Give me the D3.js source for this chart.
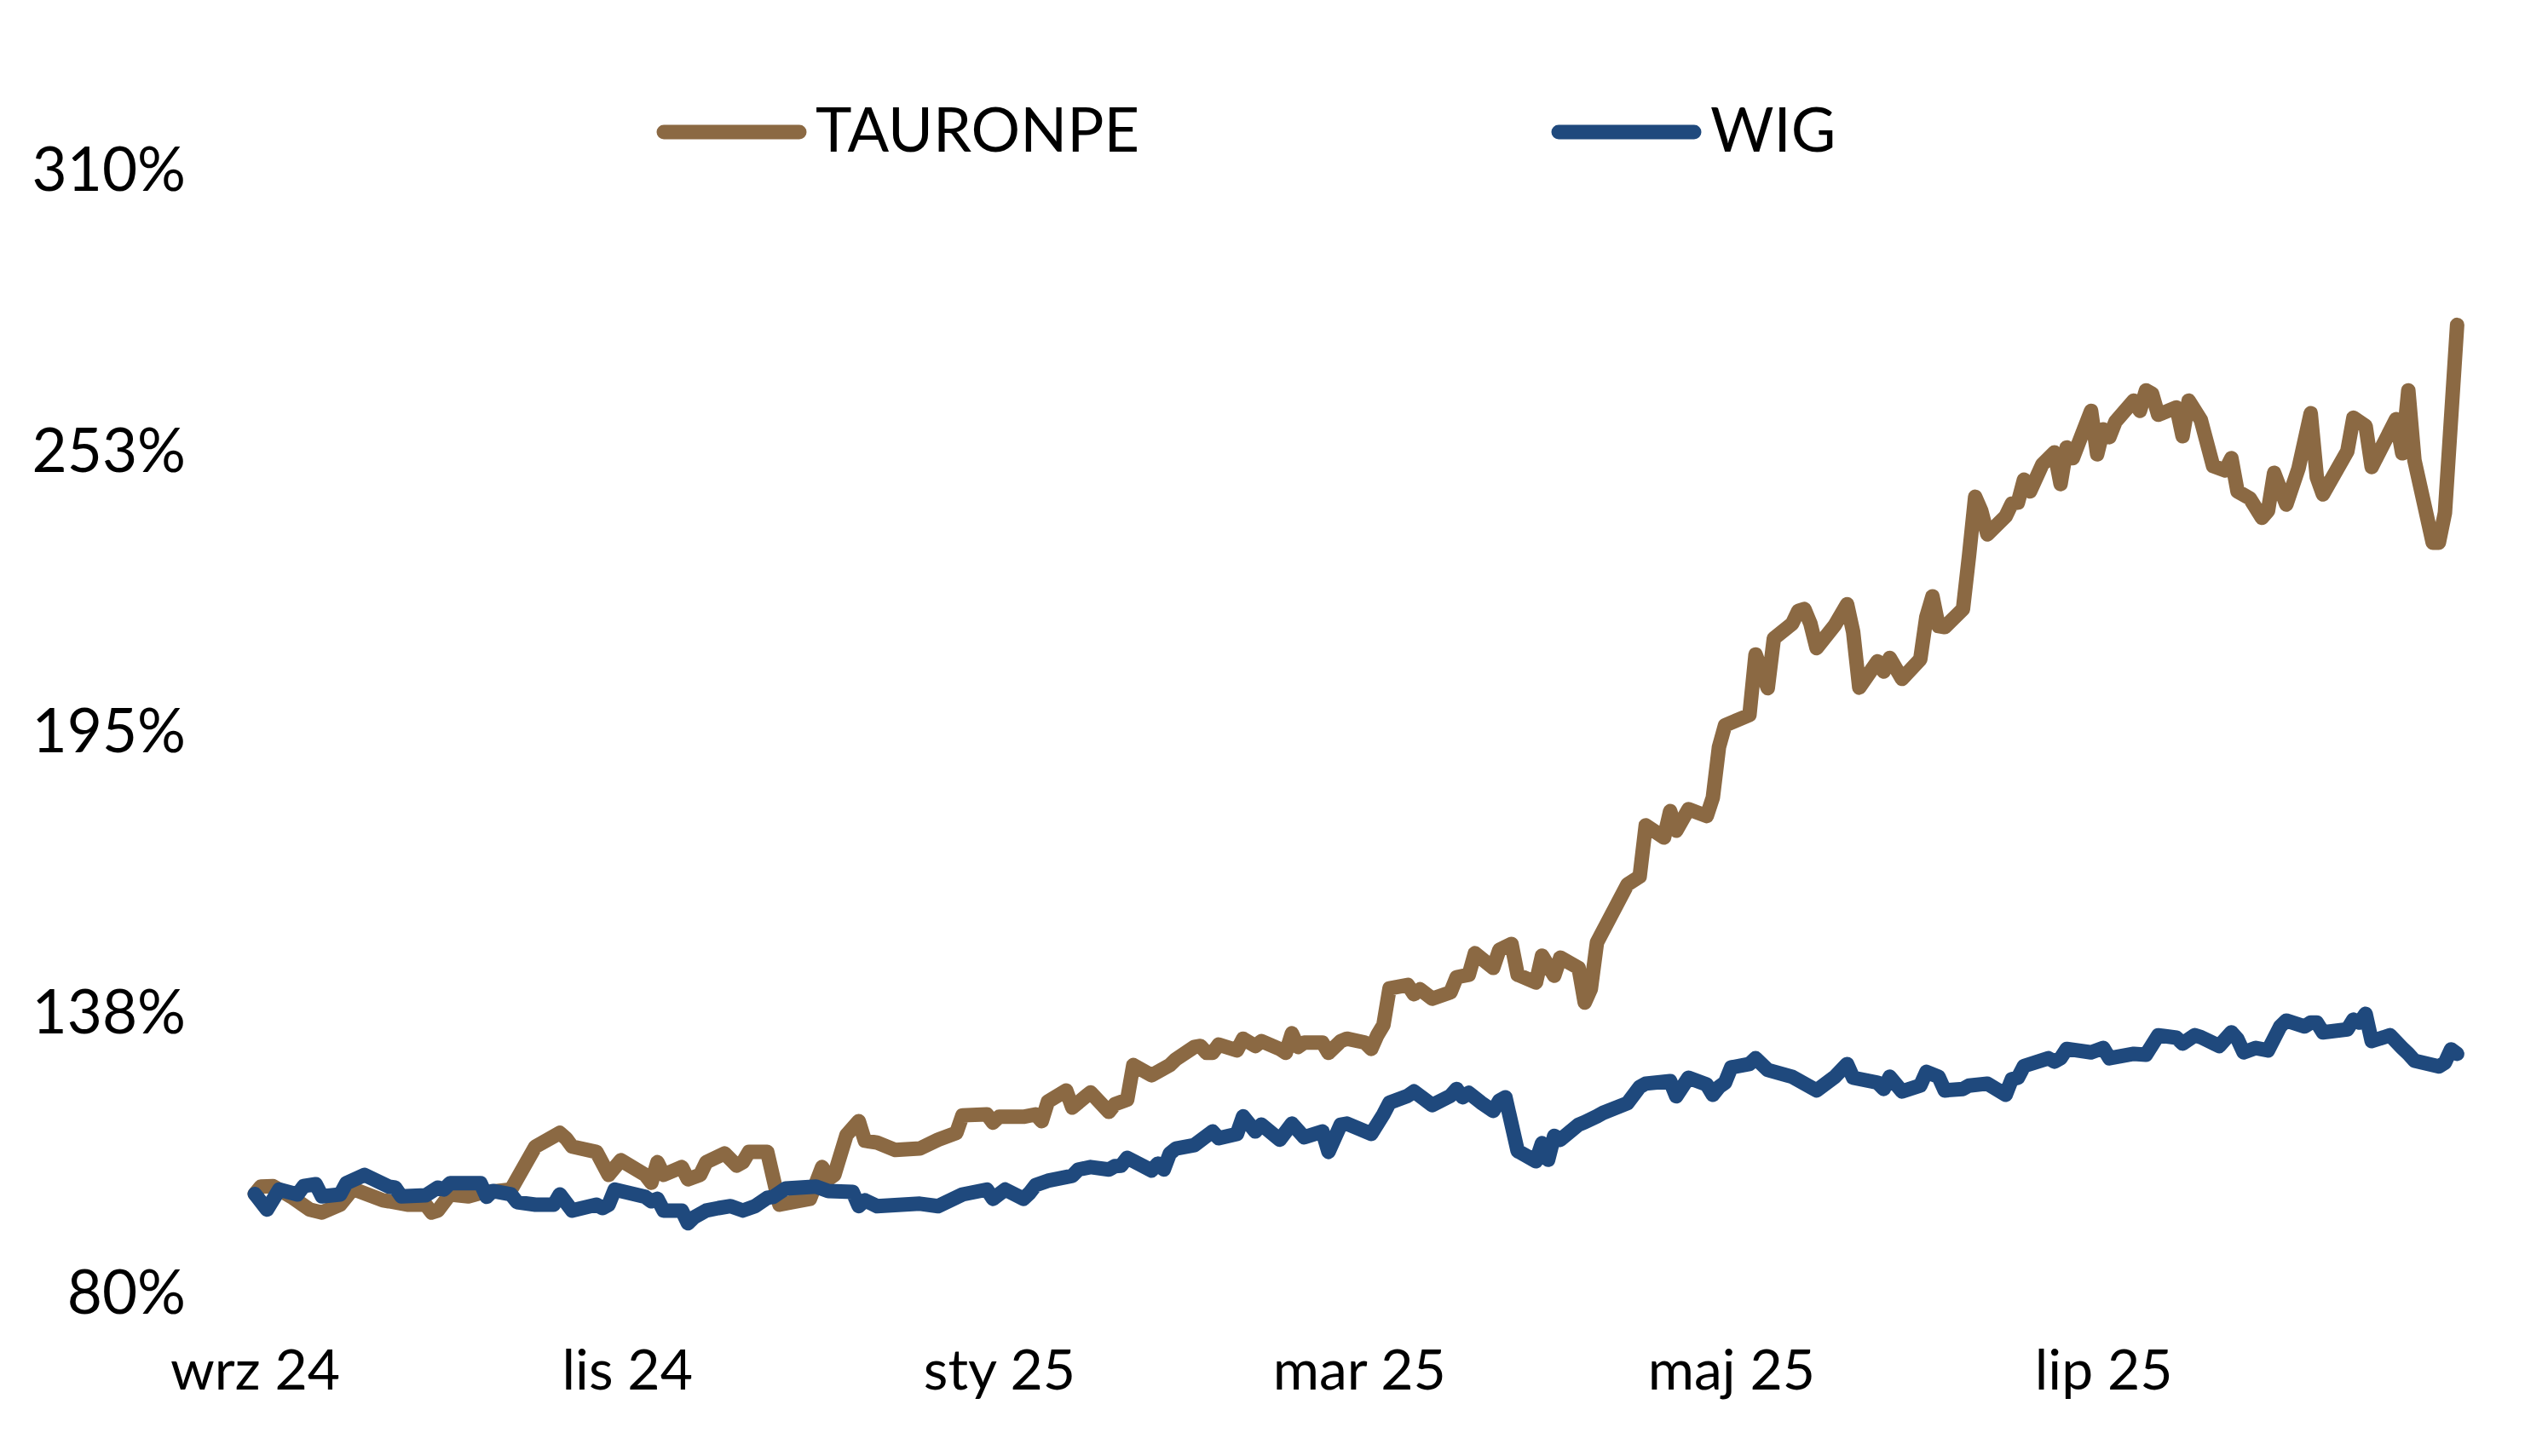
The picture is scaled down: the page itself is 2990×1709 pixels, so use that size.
<!DOCTYPE html>
<meta charset="utf-8">
<style>
body { margin: 0; background: #fff; }
text { font-family: Lato, "Open Sans", sans-serif; fill: #000; }
</style>
<body>
<svg width="2990" height="1709" id="chart"></svg>
<script src="https://d3js.org/d3.v7.min.js"></script>
<script>

// series / legend
const seriesNames = ["TAURONPE", "WIG"];
const seriesColors = ["#8b6943", "#1f497d"];

// polish month abbreviations for the date axis
const monthLabels = ["sty", "lut", "mar", "kwi", "maj", "cze", "lip", "sie", "wrz", "paź", "lis", "gru"];

// y ticks (labels rounded to whole %)
const yTicks = [80, 137.5, 195, 252.5, 310];

// TAURONPE, % of start value
const tauron = [
  ["2024-09-01", 100.0], ["2024-09-02", 101.5], ["2024-09-04", 101.6], ["2024-09-07", 99.4],
  ["2024-09-10", 96.8], ["2024-09-12", 96.2], ["2024-09-15", 97.8], ["2024-09-17", 100.9],
  ["2024-09-18", 100.6], ["2024-09-22", 98.7], ["2024-09-23", 98.5], ["2024-09-26", 97.8],
  ["2024-09-29", 97.8], ["2024-09-30", 96.2], ["2024-10-01", 96.6], ["2024-10-03", 99.9],
  ["2024-10-06", 99.5], ["2024-10-08", 100.2], ["2024-10-13", 100.9], ["2024-10-15", 105.3],
  ["2024-10-17", 109.7], ["2024-10-21", 112.5], ["2024-10-22", 111.4], ["2024-10-23", 109.7],
  ["2024-10-27", 108.6], ["2024-10-29", 103.9], ["2024-10-31", 106.9], ["2024-11-04", 103.9],
  ["2024-11-05", 102.3], ["2024-11-06", 106.5], ["2024-11-07", 103.9], ["2024-11-10", 105.5],
  ["2024-11-11", 103.0], ["2024-11-13", 103.9], ["2024-11-14", 106.5], ["2024-11-17", 108.3],
  ["2024-11-19", 105.8], ["2024-11-20", 106.5], ["2024-11-21", 108.6], ["2024-11-24", 108.6],
  ["2024-11-26", 97.8], ["2024-11-28", 98.3], ["2024-12-01", 99.0], ["2024-12-03", 105.5],
  ["2024-12-04", 103.0], ["2024-12-05", 103.9], ["2024-12-07", 112.1], ["2024-12-09", 114.9],
  ["2024-12-10", 110.9], ["2024-12-12", 110.5], ["2024-12-15", 109.0], ["2024-12-19", 109.3],
  ["2024-12-22", 111.1], ["2024-12-25", 112.5], ["2024-12-26", 116.1], ["2024-12-30", 116.3],
  ["2024-12-31", 114.6], ["2025-01-01", 115.8], ["2025-01-05", 115.8], ["2025-01-07", 116.3],
  ["2025-01-08", 114.9], ["2025-01-09", 118.9], ["2025-01-12", 121.2], ["2025-01-13", 117.7],
  ["2025-01-16", 120.8], ["2025-01-19", 116.8], ["2025-01-20", 118.4], ["2025-01-22", 119.3],
  ["2025-01-23", 126.4], ["2025-01-26", 124.3], ["2025-01-29", 126.4], ["2025-01-30", 127.6],
  ["2025-02-02", 130.1], ["2025-02-03", 130.3], ["2025-02-04", 128.9], ["2025-02-05", 128.9],
  ["2025-02-06", 130.6], ["2025-02-09", 129.4], ["2025-02-10", 131.8], ["2025-02-12", 130.3],
  ["2025-02-13", 131.3], ["2025-02-16", 129.7], ["2025-02-17", 128.9], ["2025-02-18", 132.9],
  ["2025-02-19", 130.1], ["2025-02-20", 131.0], ["2025-02-23", 131.0], ["2025-02-24", 128.9],
  ["2025-02-26", 131.3], ["2025-02-27", 131.8], ["2025-03-02", 131.0], ["2025-03-03", 129.7],
  ["2025-03-04", 132.5], ["2025-03-05", 134.6], ["2025-03-06", 142.1], ["2025-03-09", 142.8],
  ["2025-03-10", 140.9], ["2025-03-11", 141.9], ["2025-03-13", 140.0], ["2025-03-16", 141.3],
  ["2025-03-17", 144.4], ["2025-03-19", 144.9], ["2025-03-20", 149.3], ["2025-03-23", 146.3],
  ["2025-03-24", 150.0], ["2025-03-26", 151.2], ["2025-03-27", 144.9], ["2025-03-30", 143.3],
  ["2025-03-31", 148.8], ["2025-04-02", 144.7], ["2025-04-03", 148.4], ["2025-04-06", 146.3],
  ["2025-04-07", 139.2], ["2025-04-08", 142.0], ["2025-04-09", 151.5], ["2025-04-14", 163.4],
  ["2025-04-16", 165.0], ["2025-04-17", 175.5], ["2025-04-20", 173.0], ["2025-04-21", 178.4],
  ["2025-04-22", 174.4], ["2025-04-24", 178.8], ["2025-04-27", 177.4], ["2025-04-28", 181.2],
  ["2025-04-29", 191.5], ["2025-04-30", 196.0], ["2025-05-04", 198.1], ["2025-05-05", 210.5],
  ["2025-05-07", 203.6], ["2025-05-08", 213.8], ["2025-05-11", 216.8], ["2025-05-12", 219.4],
  ["2025-05-13", 219.8], ["2025-05-14", 216.8], ["2025-05-15", 211.8], ["2025-05-18", 216.5],
  ["2025-05-20", 220.8], ["2025-05-21", 215.1], ["2025-05-22", 203.7], ["2025-05-25", 209.1],
  ["2025-05-26", 207.0], ["2025-05-27", 209.8], ["2025-05-29", 205.5], ["2025-06-01", 209.5],
  ["2025-06-02", 218.2], ["2025-06-03", 222.4], ["2025-06-04", 216.3], ["2025-06-05", 216.1],
  ["2025-06-08", 219.8], ["2025-06-09", 230.8], ["2025-06-10", 242.8], ["2025-06-11", 239.9],
  ["2025-06-12", 235.1], ["2025-06-15", 238.8], ["2025-06-16", 241.4], ["2025-06-17", 241.6],
  ["2025-06-18", 246.3], ["2025-06-19", 243.9], ["2025-06-21", 249.4], ["2025-06-23", 251.9],
  ["2025-06-24", 245.4], ["2025-06-25", 252.9], ["2025-06-26", 250.7], ["2025-06-29", 260.4],
  ["2025-06-30", 251.5], ["2025-07-01", 256.6], ["2025-07-02", 255.0], ["2025-07-03", 258.2],
  ["2025-07-06", 262.5], ["2025-07-07", 260.4], ["2025-07-08", 264.6], ["2025-07-09", 263.9],
  ["2025-07-10", 259.6], ["2025-07-13", 261.1], ["2025-07-14", 255.2], ["2025-07-15", 262.5],
  ["2025-07-17", 258.5], ["2025-07-19", 249.1], ["2025-07-21", 248.2], ["2025-07-22", 250.7],
  ["2025-07-23", 243.9], ["2025-07-25", 242.5], ["2025-07-27", 238.5], ["2025-07-28", 239.9],
  ["2025-07-29", 247.7], ["2025-07-31", 241.2], ["2025-08-02", 248.6], ["2025-08-04", 259.9],
  ["2025-08-05", 246.8], ["2025-08-06", 243.3], ["2025-08-10", 252.1], ["2025-08-11", 259.0],
  ["2025-08-13", 257.3], ["2025-08-14", 248.9], ["2025-08-18", 258.7], ["2025-08-19", 251.7],
  ["2025-08-20", 264.6], ["2025-08-21", 250.3], ["2025-08-24", 233.4], ["2025-08-25", 233.4],
  ["2025-08-26", 239.5], ["2025-08-28", 278.0]
];

// WIG index, % of start value
const wig = [
  ["2024-09-01", 100.0], ["2024-09-03", 96.8], ["2024-09-05", 100.9], ["2024-09-08", 99.9],
  ["2024-09-09", 101.6], ["2024-09-11", 102.0], ["2024-09-12", 99.5], ["2024-09-15", 99.9],
  ["2024-09-16", 102.2], ["2024-09-19", 103.9], ["2024-09-23", 101.5], ["2024-09-24", 101.3],
  ["2024-09-25", 99.5], ["2024-09-29", 99.7], ["2024-10-01", 101.3], ["2024-10-02", 100.9],
  ["2024-10-03", 102.2], ["2024-10-08", 102.2], ["2024-10-09", 99.4], ["2024-10-10", 100.6],
  ["2024-10-13", 99.9], ["2024-10-14", 98.3], ["2024-10-17", 97.8], ["2024-10-20", 97.8],
  ["2024-10-21", 99.9], ["2024-10-23", 96.6], ["2024-10-27", 97.8], ["2024-10-28", 97.1],
  ["2024-10-29", 97.8], ["2024-10-30", 100.9], ["2024-11-04", 99.4], ["2024-11-05", 98.5],
  ["2024-11-06", 99.0], ["2024-11-07", 96.6], ["2024-11-10", 96.6], ["2024-11-11", 94.0],
  ["2024-11-12", 95.2], ["2024-11-14", 96.6], ["2024-11-16", 97.1], ["2024-11-18", 97.5],
  ["2024-11-20", 96.6], ["2024-11-22", 97.5], ["2024-11-24", 99.2], ["2024-11-25", 99.4],
  ["2024-11-27", 101.1], ["2024-12-02", 101.5], ["2024-12-04", 100.6], ["2024-12-08", 100.4],
  ["2024-12-09", 97.5], ["2024-12-10", 98.7], ["2024-12-12", 97.5], ["2024-12-19", 98.0],
  ["2024-12-22", 97.5], ["2024-12-26", 99.9], ["2024-12-30", 100.9], ["2024-12-31", 99.0],
  ["2025-01-02", 100.9], ["2025-01-05", 99.0], ["2025-01-06", 100.2], ["2025-01-07", 101.8],
  ["2025-01-09", 102.7], ["2025-01-13", 103.7], ["2025-01-14", 105.0], ["2025-01-16", 105.5],
  ["2025-01-19", 105.0], ["2025-01-20", 105.7], ["2025-01-21", 105.8], ["2025-01-22", 107.4],
  ["2025-01-26", 104.8], ["2025-01-27", 106.2], ["2025-01-28", 105.0], ["2025-01-29", 108.3],
  ["2025-01-30", 109.3], ["2025-02-02", 110.0], ["2025-02-05", 112.8], ["2025-02-06", 111.4],
  ["2025-02-09", 112.3], ["2025-02-10", 115.9], ["2025-02-12", 112.8], ["2025-02-13", 114.2],
  ["2025-02-16", 111.1], ["2025-02-18", 114.4], ["2025-02-20", 111.6], ["2025-02-23", 112.8],
  ["2025-02-24", 108.6], ["2025-02-26", 114.2], ["2025-02-27", 114.4], ["2025-03-03", 112.3],
  ["2025-03-05", 116.3], ["2025-03-06", 118.7], ["2025-03-09", 120.1], ["2025-03-10", 121.0],
  ["2025-03-13", 118.2], ["2025-03-16", 120.1], ["2025-03-17", 121.5], ["2025-03-18", 119.8],
  ["2025-03-19", 120.7], ["2025-03-21", 118.7], ["2025-03-23", 117.0], ["2025-03-24", 119.1],
  ["2025-03-25", 119.8], ["2025-03-27", 108.8], ["2025-03-30", 106.7], ["2025-03-31", 110.4],
  ["2025-04-01", 107.0], ["2025-04-02", 111.9], ["2025-04-03", 111.1], ["2025-04-06", 114.2],
  ["2025-04-07", 114.7], ["2025-04-09", 115.9], ["2025-04-10", 116.6], ["2025-04-14", 118.6],
  ["2025-04-16", 121.9], ["2025-04-17", 122.6], ["2025-04-21", 123.1], ["2025-04-22", 120.0],
  ["2025-04-24", 123.8], ["2025-04-27", 122.4], ["2025-04-28", 120.3], ["2025-04-29", 121.9],
  ["2025-04-30", 122.8], ["2025-05-01", 125.9], ["2025-05-04", 126.6], ["2025-05-05", 127.8],
  ["2025-05-07", 125.4], ["2025-05-11", 124.0], ["2025-05-15", 121.2], ["2025-05-18", 124.0],
  ["2025-05-20", 126.6], ["2025-05-21", 123.8], ["2025-05-25", 122.8], ["2025-05-26", 121.5],
  ["2025-05-27", 124.0], ["2025-05-29", 121.0], ["2025-06-01", 122.2], ["2025-06-02", 125.0],
  ["2025-06-04", 124.0], ["2025-06-05", 121.2], ["2025-06-08", 121.5], ["2025-06-09", 122.2],
  ["2025-06-12", 122.6], ["2025-06-15", 120.3], ["2025-06-16", 123.5], ["2025-06-17", 123.8],
  ["2025-06-18", 126.2], ["2025-06-22", 127.8], ["2025-06-23", 127.1], ["2025-06-24", 127.8],
  ["2025-06-25", 129.7], ["2025-06-29", 129.0], ["2025-07-01", 129.9], ["2025-07-02", 127.8],
  ["2025-07-06", 128.7], ["2025-07-08", 128.5], ["2025-07-10", 132.5], ["2025-07-13", 132.0],
  ["2025-07-14", 130.8], ["2025-07-16", 132.5], ["2025-07-17", 132.1], ["2025-07-20", 130.3],
  ["2025-07-22", 133.1], ["2025-07-23", 131.7], ["2025-07-24", 129.0], ["2025-07-26", 129.9],
  ["2025-07-28", 129.4], ["2025-07-30", 134.3], ["2025-07-31", 135.5], ["2025-08-03", 134.3],
  ["2025-08-04", 135.1], ["2025-08-05", 135.1], ["2025-08-06", 133.1], ["2025-08-10", 133.7],
  ["2025-08-11", 135.7], ["2025-08-12", 135.1], ["2025-08-13", 136.9], ["2025-08-14", 131.3],
  ["2025-08-17", 132.5], ["2025-08-19", 129.9], ["2025-08-20", 128.7], ["2025-08-21", 127.3],
  ["2025-08-25", 126.1], ["2025-08-26", 126.9], ["2025-08-27", 129.6], ["2025-08-28", 128.7]
];

var svg = d3.select("svg");
var parse = d3.utcParse("%Y-%m-%d");

var start = parse("2024-09-01"),
    end = parse("2025-09-01");

var x = d3.scaleUtc().domain([start, end]).range([299, 2912]);
var y = d3.scaleLinear().domain([80, 310]).range([1516, 198]);

svg.append("rect").attr("width", 2990).attr("height", 1709).attr("fill", "#fff");

// y axis: labels only
var yAxis = svg.append("g")
    .attr("transform", "translate(218,0)")
    .call(d3.axisLeft(y).tickValues(yTicks).tickSize(0).tickPadding(0)
        .tickFormat(d => Math.round(d) + "%"));
yAxis.select(".domain").remove();
yAxis.selectAll("text")
    .attr("font-family", null)
    .attr("font-size", 71)
    .attr("dy", "0.36em");

// x axis: every second month
var xTicks = d3.utcMonth.every(2).range(start, end);
var xAxis = svg.append("g")
    .attr("transform", "translate(0,1631)")
    .call(d3.axisBottom(x).tickValues(xTicks).tickSize(0).tickPadding(0)
        .tickFormat(d => monthLabels[d.getUTCMonth()] + " " + String(d.getUTCFullYear()).slice(2)));
xAxis.select(".domain").remove();
xAxis.selectAll("text")
    .attr("font-family", null)
    .attr("font-size", 66)
    .attr("y", 0)
    .attr("dy", 0);

// lines, WIG drawn over TAURONPE
var line = d3.line()
    .x(d => x(parse(d[0])))
    .y(d => y(d[1]));

[tauron, wig].forEach(function(series, i) {
    svg.append("path")
        .datum(series)
        .attr("fill", "none")
        .attr("stroke", seriesColors[i])
        .attr("stroke-width", 17)
        .attr("stroke-linejoin", "round")
        .attr("stroke-linecap", "round")
        .attr("d", line);
});

// legend
var legendX = [779, 1829];
var legend = svg.append("g").selectAll("g")
    .data(seriesNames)
    .enter().append("g")
    .attr("transform", (d, i) => "translate(" + legendX[i] + ",155)");
legend.append("line")
    .attr("x1", 0).attr("x2", 159)
    .attr("stroke", (d, i) => seriesColors[i])
    .attr("stroke-width", 17)
    .attr("stroke-linecap", "round");
legend.append("text")
    .attr("x", 178)
    .attr("y", 23)
    .attr("font-size", 72)
    .text(d => d);

</script>
</body>
